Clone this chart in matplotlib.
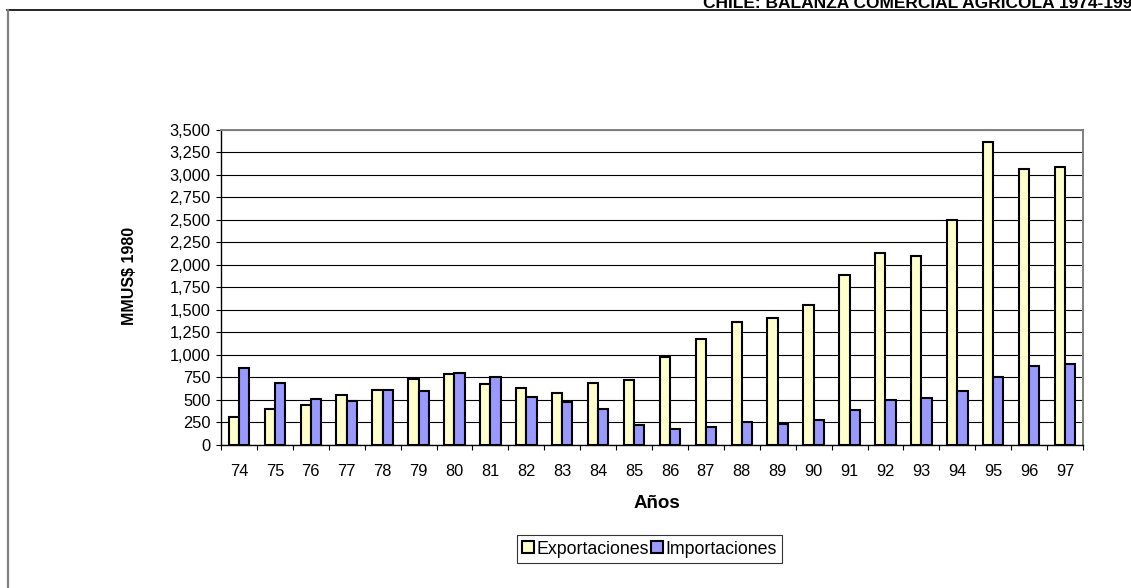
import matplotlib
matplotlib.use("Agg")
import matplotlib.pyplot as plt
from matplotlib.lines import Line2D
from matplotlib.patches import Patch
from matplotlib.ticker import FuncFormatter, FixedLocator
import numpy as np

plt.rcParams['font.family'] = ['Liberation Sans', 'DejaVu Sans']

years = ["74", "75", "76", "77", "78", "79", "80", "81", "82", "83", "84", "85",
         "86", "87", "88", "89", "90", "91", "92", "93", "94", "95", "96", "97"]
exportaciones = [308, 396, 444, 552, 615, 730, 793, 681, 630, 574, 689, 722,
                 981, 1174, 1359, 1404, 1548, 1885, 2133, 2100, 2500, 3363, 3063, 3081]
importaciones = [855, 689, 507, 489, 615, 600, 800, 752, 530, 474, 404, 222,
                 174, 204, 256, 237, 274, 393, 500, 519, 600, 752, 881, 896]
y_ticks = list(range(0, 3501, 250))

W, H = 1131, 588
fig = plt.figure(figsize=(W / 100, H / 100), dpi=100)
ax = fig.add_axes([221 / W, 1 - 445 / H, (1083 - 221) / W, (445 - 129.5) / H])

x = np.arange(len(years))
bw = 1 / 3.5
ax.bar(x - bw / 2, exportaciones, width=bw, color='#FFFFCC', edgecolor='black',
       linewidth=1.5, zorder=3, label='Exportaciones')
ax.bar(x + bw / 2, importaciones, width=bw, color='#9999FF', edgecolor='black',
       linewidth=1.5, zorder=3, label='Importaciones')

ax.set_xlim(-0.5, len(years) - 0.5)
ax.set_ylim(0, 3500)
ax.set_yticks(y_ticks)
ax.yaxis.set_major_formatter(FuncFormatter(lambda v, p: f"{int(v):,}"))
ax.grid(axis='y', color='black', linewidth=0.8, zorder=0)
ax.set_axisbelow(True)

# ticks between categories, labels at category centres
ax.xaxis.set_major_locator(FixedLocator(np.arange(-0.5, len(years), 1.0)))
ax.xaxis.set_minor_locator(FixedLocator(x))
ax.set_xticklabels([])
ax.set_xticklabels(years, minor=True)
ax.tick_params(axis='x', which='major', direction='out', length=3.5, width=0.8)
ax.tick_params(axis='x', which='minor', length=0, pad=14, labelsize=11.8)
ax.tick_params(axis='y', direction='out', length=3.5, width=0.8, pad=4, labelsize=11.8)

for side in ('left', 'bottom'):
    ax.spines[side].set_color('black')
    ax.spines[side].set_linewidth(1.0)
for side in ('top', 'right'):
    ax.spines[side].set_color('#808080')
    ax.spines[side].set_linewidth(1.4)

fig.text(129 / W, 1 - 276 / H, 'MMUS$ 1980', rotation=90, ha='center', va='center',
         fontsize=11.5, fontweight='bold')
fig.text(657 / W, 1 - 503 / H, 'Años', ha='center', va='center',
         fontsize=13.5, fontweight='bold')

handles = [Patch(facecolor='#FFFFCC', edgecolor='black', linewidth=1.5),
           Patch(facecolor='#9999FF', edgecolor='black', linewidth=1.5)]
leg = fig.legend(handles, ['Exportaciones', 'Importaciones'], ncol=2,
                 loc='center', bbox_to_anchor=(649.5 / W, 1 - 549 / H),
                 fontsize=12.8, frameon=True, fancybox=False, edgecolor='black',
                 handlelength=0.65, handleheight=0.65, handletextpad=0.15,
                 columnspacing=0.1, borderpad=0.3, borderaxespad=0)
leg.get_frame().set_linewidth(0.8)

# outer chart frame
fig.add_artist(Line2D([7 / W, 1], [1 - 10 / H, 1 - 10 / H], color='black', linewidth=1.2))
fig.add_artist(Line2D([7.5 / W, 7.5 / W], [0, 1 - 10 / H], color='#808080', linewidth=1.6))

fig.text(703 / W, 1 - 8.5 / H, 'CHILE: BALANZA COMERCIAL AGRICOLA 1974-1997',
         ha='left', va='baseline', fontsize=12.5, fontweight='bold')

fig.savefig('out.png', dpi=100)
